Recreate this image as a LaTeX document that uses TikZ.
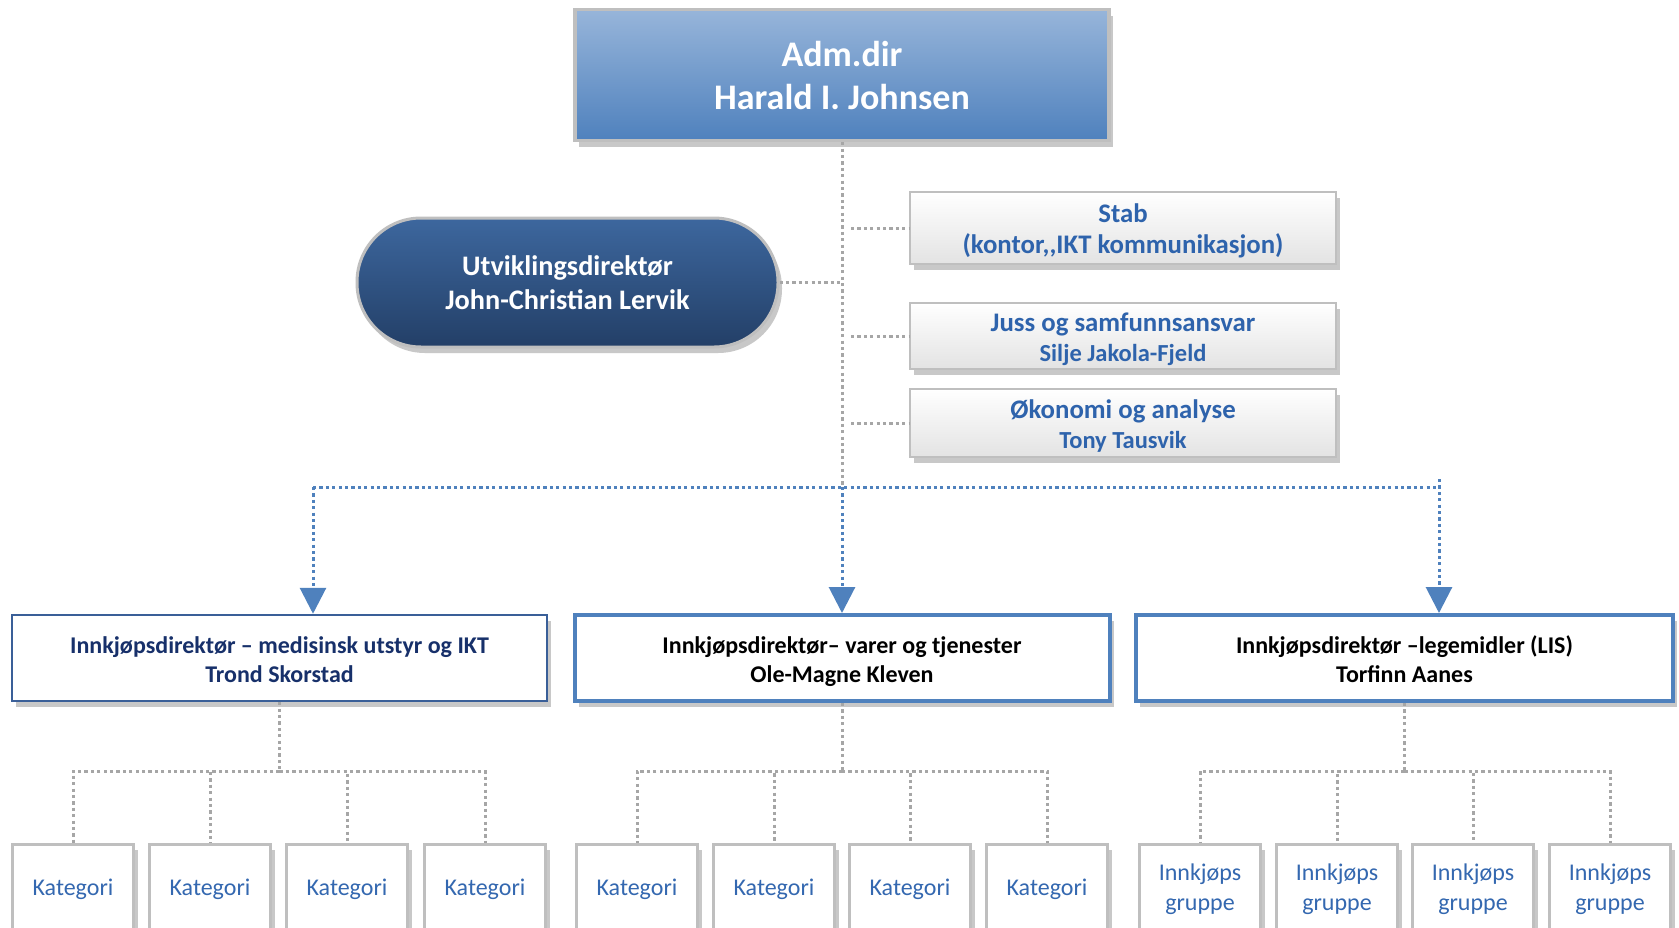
\documentclass[tikz,border=0pt]{standalone}
\usepackage{fontspec}
\setmainfont{Carlito}
\usetikzlibrary{shadows,arrows.meta}
\definecolor{topA}{HTML}{97B5DA}
\definecolor{topB}{HTML}{4F81BD}
\definecolor{pillA}{HTML}{3D679E}
\definecolor{pillB}{HTML}{233F67}
\definecolor{txtblue}{HTML}{2E63AC}
\definecolor{katblue}{HTML}{3468B0}
\definecolor{navy}{HTML}{17306A}
\definecolor{lborder}{HTML}{3A5F98}
\definecolor{midblue}{HTML}{4F81BD}
\definecolor{lgray}{HTML}{A6A6A6}
\definecolor{bgray}{HTML}{BFBFBF}
\tikzset{
  shad/.style={drop shadow={shadow xshift=4pt,shadow yshift=-6pt,opacity=0.3,fill=black!70}},
  topbox/.style={shad,draw=bgray,line width=3.5pt,top color=topA,bottom color=topB,
    minimum width=534pt,minimum height=131pt,inner sep=0pt,align=center,text=white,
    font=\fontsize{36}{43}\selectfont\bfseries},
  pillbox/.style={shad,draw=bgray,line width=3pt,top color=pillA,bottom color=pillB,
    rounded corners=64pt,minimum width=421pt,minimum height=129pt,inner sep=0pt,align=center,text=white,
    font=\fontsize{28.3}{34}\selectfont\bfseries},
  staffbox/.style={shad,draw=bgray,line width=2.5pt,top color=white,bottom color=black!11,
    minimum width=426pt,inner sep=0pt,align=center,text=txtblue,
    font=\fontsize{26.8}{31}\selectfont\bfseries},
  dirbox/.style={shad,fill=white,draw=midblue,line width=4pt,minimum width=535pt,minimum height=86pt,
    inner sep=0pt,align=center,font=\fontsize{24}{29}\selectfont\bfseries},
  catbox/.style={shad,fill=white,draw=bgray,line width=2.5pt,minimum width=121pt,minimum height=90pt,
    inner sep=0pt,align=center,text=katblue,font=\fontsize{24}{30}\selectfont},
  gline/.style={draw=lgray,line width=3pt,dash pattern=on 3.2pt off 3.2pt},
  bline/.style={draw=midblue,line width=3pt,dash pattern=on 3.2pt off 3.2pt},
  barrow/.style={bline,-{Triangle[width=26pt,length=26pt]}}
}
\newcommand{\smallline}[1]{{\fontsize{24.5}{29}\selectfont #1}}
\newcommand{\topstrut}{\rule{0pt}{26pt}}
\newcommand{\botstrut}{\rule[-7pt]{0pt}{7pt}}
\begin{document}
\begin{tikzpicture}[x=1pt,y=-1pt]
\useasboundingbox (0,0) rectangle (1679,927);
\clip (0,0) rectangle (1679,927);
\fill[white] (0,0) rectangle (1679,927);
% top
\node[topbox] (top) at (842,75) {Adm.dir\\Harald I. Johnsen};
\node[pillbox] (U) at (567.5,282.5) {Utviklingsdirektør\\John-Christian Lervik};
\node[staffbox,minimum height=72pt] (S) at (1123,228) {\rule{0pt}{25pt}Stab\\(kontor,{},IKT kommunikasjon)};
\node[staffbox,minimum height=66pt] (J) at (1123,336) {\rule{0pt}{25pt}Juss og samfunnsansvar\\[-1pt]\smallline{Silje Jakola-Fjeld}};
\node[staffbox,minimum height=68pt] (O) at (1123,423) {\rule{0pt}{25pt}Økonomi og analyse\\[-1pt]\smallline{Tony Tausvik}};
% directors
\node[dirbox,draw=lborder,line width=2.5pt,text=navy] (L) at (279.5,658) {\topstrut Innkjøpsdirektør – medisinsk utstyr og IKT\\Trond Skorstad\botstrut};
\node[dirbox,text=black] (M) at (842,658) {\topstrut Innkjøpsdirektør– varer og tjenester\\Ole-Magne Kleven\botstrut};
\node[dirbox,text=black,minimum width=537pt] (R) at (1404.5,658) {\topstrut Innkjøpsdirektør –legemidler (LIS)\\Torfinn Aanes\botstrut};
% spine
\coordinate (hub) at (842,487);
\coordinate (hl) at (313,487);
\coordinate (hr) at (1439,487);
\draw[gline] (top.south) -- (hub);
\draw[gline] (U.east) -- (U.east -| top.south);
\draw[gline] ([xshift=9pt]top.south |- S.west) -- (S.west);
\draw[gline] ([xshift=9pt]top.south |- J.west) -- (J.west);
\draw[gline] ([xshift=9pt]top.south |- O.west) -- (O.west);
\draw[bline] (hl) -- (hr);
\draw[barrow] (hl) -- (hl |- L.north);
\draw[barrow] (hub) -- (M.north);
\draw[barrow] ([yshift=8pt]hr) -- (hr |- R.north);
% bottom boxes
\foreach \n/\x in {a1/73,a2/210,a3/347,a4/485}{\node[catbox,anchor=north] (\n) at (\x,843) {Kategori};}
\foreach \n/\x in {b1/637,b2/774,b3/910,b4/1047}{\node[catbox,anchor=north] (\n) at (\x,843) {Kategori};}
\foreach \n/\x in {c1/1200,c2/1337,c3/1473,c4/1610}{\node[catbox,anchor=north] (\n) at (\x,843) {Innkjøps\\gruppe};}
\coordinate (busA) at (279.5,771);
\coordinate (busB) at (842,771);
\coordinate (busC) at (1404.5,771);
\draw[gline] (L.south) -- (busA);
\draw[gline] (M.south) -- (busB);
\draw[gline] (R.south) -- (busC);
\foreach \n in {a1,a2,a3,a4}{\draw[gline] (busA) -| (\n.north);}
\foreach \n in {b1,b2,b3,b4}{\draw[gline] (busB) -| (\n.north);}
\foreach \n in {c1,c2,c3,c4}{\draw[gline] (busC) -| (\n.north);}
\end{tikzpicture}
\end{document}
